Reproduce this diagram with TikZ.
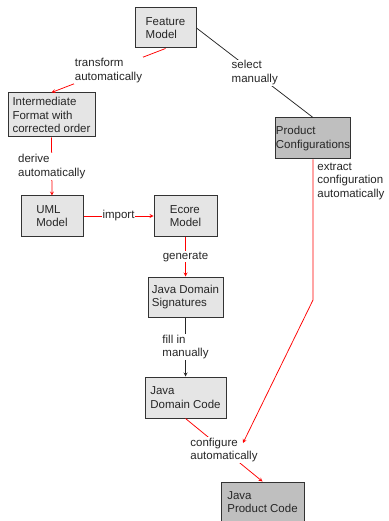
\documentclass[tikz,border=0pt]{standalone}
\usepackage{fontspec}
\setmainfont{Liberation Sans}
\usetikzlibrary{arrows}

\begin{document}
\begin{tikzpicture}[x=1pt, y=-1pt, font=\fontsize{11.5}{13.5}\selectfont]
    % Define styles
    \tikzstyle{artifact} = [rectangle, align=left, text=black!85, draw=black!80, line width=1pt, fill=black!10, minimum height=40pt]
    \tikzstyle{product} = [artifact, fill=black!25]
    \tikzstyle{autoarrow} = [red, line width=0.75pt, ->, >=stealth]
    \tikzstyle{manualarrow} = [black!85, line width=0.75pt, ->, >=stealth]
    \tikzstyle{edgelabel} = [fill=white, text=black!85, align=left, inner sep=1pt]

    \useasboundingbox (0,0) rectangle (388,521);

    % Artifacts
    \node (feature) [artifact, minimum width=61pt] at (165.5,28) {Feature\\Model};
    \node (inter) [artifact, minimum width=87pt, minimum height=44pt] at (51.5,115) {Intermediate\\Format with\\corrected order};
    \node (prodconf) [product, minimum width=74pt, minimum height=41pt, inner xsep=0pt] at (313,138.5) {Product\\Configurations};
    \node (uml) [artifact, minimum width=62pt] at (52,216) {UML\\Model};
    \node (ecore) [artifact, minimum width=63pt] at (185.5,216) {Ecore\\Model};
    \node (signatures) [artifact, minimum width=75pt] at (185.5,297) {Java Domain\\Signatures};
    \node (domaincode) [artifact, minimum width=81pt, minimum height=41pt] at (185.5,397.5) {Java\\Domain Code};
    \node (productcode) [product, minimum width=83pt] at (262.5,502) {Java\\Product Code};

    \coordinate (kink) at (313,300);
    \coordinate (configin) at (243,443);

    % Arrows
    \draw [autoarrow] (feature.south) -- node[edgelabel] {transform\\automatically} (inter.north);
    \draw [manualarrow, -] (feature.east) -- node[edgelabel] {select\\manually} (prodconf.north);
    \draw [autoarrow] (inter.south) -- node[edgelabel] {derive\\automatically} (uml.north);
    \draw [autoarrow] (uml) -- node[edgelabel] {import} (ecore);
    \draw [autoarrow] (ecore) -- node[edgelabel] {generate} (signatures);
    \draw [manualarrow] (signatures) -- node[edgelabel] {fill in\\manually} (domaincode);
    \draw [autoarrow] (domaincode.south) -- node[edgelabel] (configure) {configure\\automatically} (productcode.north);
    \draw [autoarrow] (prodconf.south) node[edgelabel, anchor=north west, xshift=3pt, yshift=-2pt] (extract) {extract\\configuration\\automatically} -- (kink) -- (configin);
\end{tikzpicture}
\end{document}
